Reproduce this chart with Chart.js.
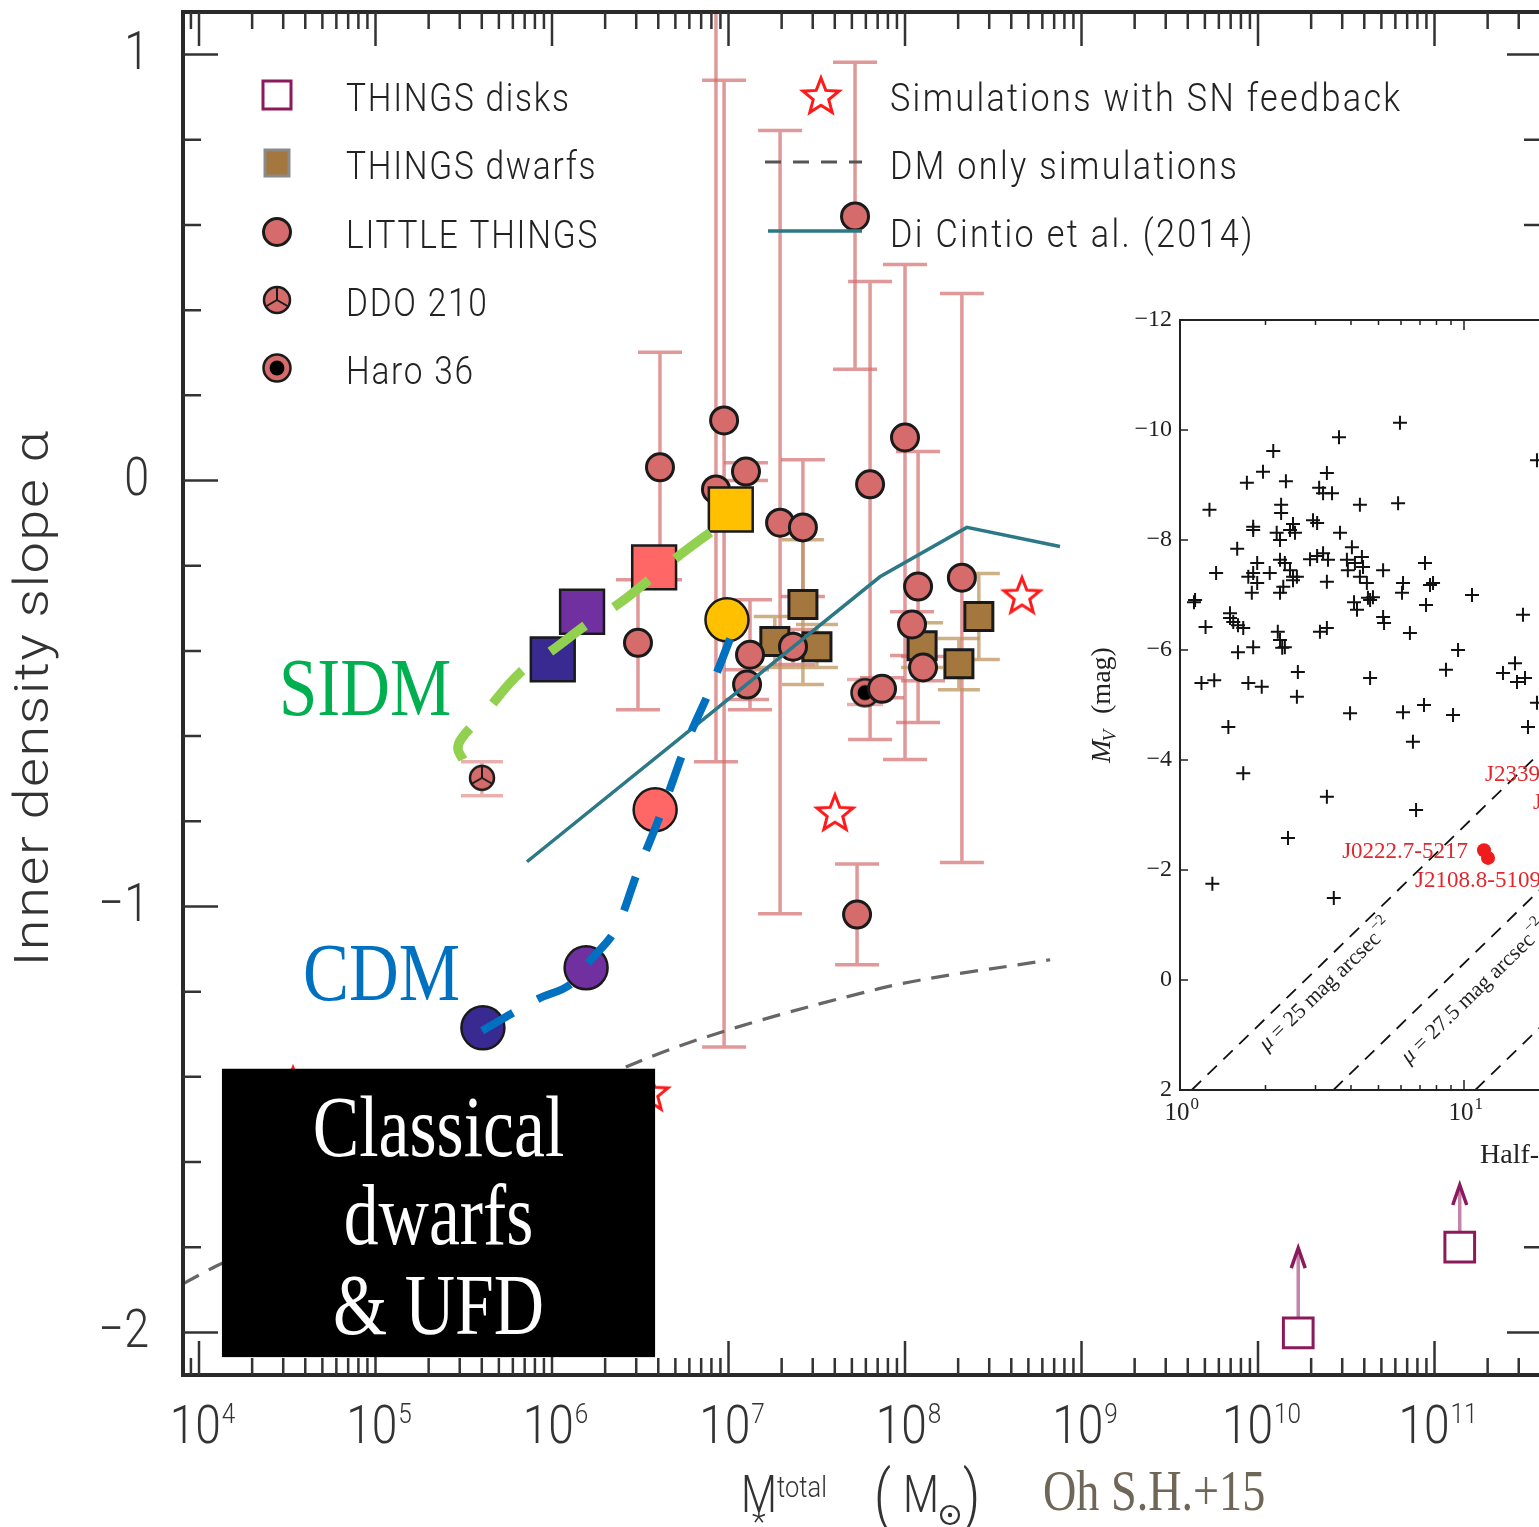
<!DOCTYPE html>
<html>
<head>
<meta charset="utf-8">
<script src="https://cdn.jsdelivr.net/npm/chart.js@4.4.0/dist/chart.umd.min.js"></script>
<style>
  html, body { margin: 0; padding: 0; background: #fff; overflow: hidden; }
  #wrap { position: relative; width: 1539px; height: 1527px; overflow: hidden; background: #fff; }
  #main { position: absolute; left: 0; top: 0; }
  #inset { position: absolute; left: 1062px; top: 300px; }
</style>
</head>
<body>
<div id="wrap">
  <canvas id="main" width="1560" height="1527"></canvas>
  <canvas id="inset" width="800" height="880"></canvas>
</div>
<script>
// ---------------- Main panel: inner density slope vs total stellar mass ----------------
// LITTLE THINGS galaxies (mass in Msun, slope alpha, lower/upper error ends)
const ltMass    = [9.44e6, 8.49e6, 4.09e6, 3.07e6, 1.256e7, 1.96e7, 2.64e7, 6.34e7, 5.21e7, 1.0e8,
                   1.186e8, 2.10e8, 1.096e8, 1.265e8, 1.324e7, 1.274e7, 2.32e7, 7.41e7, 5.35e7];
const ltSlope   = [0.141, -0.021, 0.031, -0.381, 0.021, -0.099, -0.110, -0.009, 0.620, 0.101,
                   -0.249, -0.228, -0.338, -0.439, -0.409, -0.479, -0.390, -0.489, -1.019];
const ltSlopeLo = [-1.330, -0.660, -0.233, -0.538, 0.000, -1.017, -0.272, -0.608, 0.261, -0.655,
                   -0.568, -0.897, -0.411, -0.470, -0.538, -0.514, -0.432, -0.510, -1.137];
const ltSlopeHi = [0.940, 1.500, 0.301, -0.233, 0.042, 0.822, 0.049, 0.467, 0.982, 0.507,
                   0.068, 0.439, -0.308, -0.413, -0.280, -0.444, -0.350, -0.463, -0.900];

const ddoMass = [4.01e5], ddoSlope = [-0.698], ddoSlopeLo = [-0.740], ddoSlopeHi = [-0.660];
const haroMass = [5.93e7], haroSlope = [-0.498], haroSlopeLo = [-0.526], haroSlopeHi = [-0.467];

// THINGS dwarfs
const tdMass    = [2.64e7, 1.83e7, 3.17e7, 1.25e8, 2.02e8, 2.62e8];
const tdSlope   = [-0.291, -0.378, -0.390, -0.388, -0.430, -0.319];
const tdSlopeLo = [-0.479, -0.439, -0.439, -0.439, -0.491, -0.420];
const tdSlopeHi = [-0.139, -0.319, -0.338, -0.334, -0.371, -0.218];

// THINGS disks (lower limits)
const tkMass  = [1.69e10, 1.39e11];
const tkSlope = [-2.001, -1.800];
const tkLimit = [-1.802, -1.654];

// Simulations with SN feedback
const snMass  = [4.60e8, 4.01e7, 3.59e6, 3.41e4];
const snSlope = [-0.268, -0.778, -1.435, -1.419];

// DM-only simulations
const dmMass  = [8.11e3, 1.23e4, 3.07e6, 7.13e7, 6.64e8];
const dmSlope = [-1.886, -1.846, -1.365, -1.193, -1.125];

// Di Cintio et al. (2014)
const dcMass  = [7.21e5, 7.21e7, 2.24e8, 7.55e8];
const dcSlope = [-0.895, -0.226, -0.110, -0.155];

// SIDM track and its four haloes
const sidmTrackMass  = [3.13e5, 2.93e5, 3.09e5, 4.17e5, 6.59e5, 9.62e5, 1.62e6, 2.43e6, 4.04e6, 5.82e6, 9.93e6];
const sidmTrackSlope = [-0.655, -0.630, -0.604, -0.545, -0.451, -0.404, -0.334, -0.287, -0.214, -0.162, -0.092];
const sidmMass  = [1.01e6, 1.48e6, 3.79e6, 1.03e7];
const sidmSlope = [-0.420, -0.308, -0.204, -0.068];

// CDM track and its four haloes
const cdmTrackMass  = [4.01e5, 8.34e5, 1.26e6, 1.66e6, 2.28e6, 3.07e6, 4.20e6, 5.90e6, 7.85e6, 1.07e7];
const cdmTrackSlope = [-1.292, -1.217, -1.184, -1.125, -1.055, -0.916, -0.775, -0.608, -0.491, -0.350];
const cdmMass  = [4.06e5, 1.56e6, 3.84e6, 9.80e6];
const cdmSlope = [-1.285, -1.144, -0.773, -0.327];

const xDecades = [4, 5, 6, 7, 8, 9, 10, 11];
const yTicks = [1, 0, -1, -2];

const legendLeft  = ['THINGS disks', 'THINGS dwarfs', 'LITTLE THINGS', 'DDO 210', 'Haro 36'];
const legendRight = ['Simulations with SN feedback', 'DM only simulations', 'Di Cintio et al. (2014)'];

// ---------------- Inset: absolute magnitude vs half-light radius ----------------
const hlRadius = [5.95,3.63,2.13,1.96,3.29,1.72,2.36,3.09,3.19,3.43,
                  5.86,4.30,1.27,2.27,2.27,1.81,1.81,2.50,2.44,2.54,
                  2.94,3.04,2.19,2.25,3.66,1.59,4.03,3.04,3.19,3.32,
                  2.87,2.25,2.34,2.44,2.50,1.87,1.81,1.74,1.87,2.07,
                  3.87,3.90,4.13,4.37,4.41,4.30,4.55,5.19,7.29,6.10,
                  6.05,7.59,7.78,10.67,1.34,2.25,2.31,2.50,2.58,1.79,
                  3.29,4.10,4.20,4.59,4.67,4.78,7.35,1.13,1.12,1.50,
                  1.54,1.50,1.67,1.60,1.23,5.19,5.23,16.13,6.45,2.21,
                  2.25,2.34,2.29,3.11,3.29,1.60,1.81,9.53,2.60,4.67,
                  8.64,13.72,15.12,15.37,16.40,1.19,1.32,1.74,1.94,2.58,
                  3.97,6.10,7.23,9.15,16.80,18.07,1.48,6.61,1.67,3.29,
                  6.78,2.40,1.30,3.48,18.07];
const hlMag    = [-10.13,-9.87,-9.62,-9.24,-9.22,-9.04,-9.07,-8.95,-8.85,-8.85,
                  -8.67,-8.64,-8.55,-8.64,-8.49,-8.24,-8.18,-8.29,-8.18,-8.13,
                  -8.36,-8.31,-8.13,-8.00,-8.13,-7.84,-7.87,-7.71,-7.76,-7.64,
                  -7.65,-7.64,-7.58,-7.45,-7.33,-7.58,-7.40,-7.33,-7.22,-7.40,
                  -7.64,-7.45,-7.58,-7.69,-7.51,-7.33,-7.22,-7.45,-7.58,-7.22,
                  -7.04,-7.18,-7.22,-7.00,-7.40,-7.04,-7.15,-7.27,-7.33,-7.04,
                  -7.24,-6.87,-6.73,-6.95,-6.91,-6.96,-6.82,-6.91,-6.87,-6.67,
                  -6.51,-6.58,-6.40,-6.45,-6.42,-6.60,-6.49,-6.64,-6.31,-6.33,
                  -6.18,-6.05,-6.04,-6.33,-6.40,-5.96,-6.05,-6.00,-5.60,-5.49,
                  -5.64,-5.58,-5.76,-5.42,-5.49,-5.40,-5.45,-5.40,-5.33,-5.15,
                  -4.85,-4.87,-5.00,-4.82,-4.60,-5.04,-4.60,-4.33,-3.76,-3.33,
                  -3.09,-2.58,-1.75,-1.49,-9.45];

const desName   = ['J0222.7-5217', 'J2108.8-5109'];
const desRadius = [11.76, 12.15];
const desMag    = [-2.36, -2.22];

// constant surface-brightness lines (end points)
const mu25Radius  = [1.10, 20.0],  mu25Mag  = [2.0, -4.30];
const mu275Radius = [3.47, 30.0],  mu275Mag = [2.0, -2.69];
const mu30Radius  = [10.96, 40.0], mu30Mag  = [2.0, -0.81];

const insetYTicks = [-12, -10, -8, -6, -4, -2, 0, 2];
const insetXDecades = [0, 1];

// ---------------- helpers ----------------
const SANS = 'Roboto, "Liberation Sans", Arial, sans-serif';
const SERIF = '"Liberation Serif", "Times New Roman", serif';
const pts = (xs, ys) => xs.map((v, i) => ({ x: v, y: ys[i] }));

function drawText(ctx, s, x, y, o) {
  ctx.save();
  ctx.translate(x, y);
  if (o.rot) ctx.rotate(o.rot);
  ctx.scale(o.sx || 1, o.sy || 1);
  ctx.font = o.font;
  ctx.fillStyle = o.color || '#222';
  ctx.textAlign = o.align || 'left';
  ctx.textBaseline = o.base || 'alphabetic';
  ctx.letterSpacing = (o.ls || 0) + 'px';
  ctx.fillText(s, 0, 0);
  ctx.restore();
}
function textW(ctx, s, font, ls) {
  ctx.save(); ctx.font = font; ctx.letterSpacing = (ls || 0) + 'px';
  const w = ctx.measureText(s).width; ctx.restore(); return w;
}

const LT_FILL = '#d56b6b', EDGE = '#1a1a1a';

function starPath(g, cx, cy, r) {
  g.beginPath();
  for (let i = 0; i < 10; i++) {
    const a = -Math.PI / 2 + i * Math.PI / 5;
    const rr = i % 2 ? r * 0.43 : r;
    g.lineTo(cx + rr * Math.cos(a), cy + rr * Math.sin(a));
  }
  g.closePath();
}
function drawStar(g, cx, cy, r) {
  g.save(); starPath(g, cx, cy, r); g.strokeStyle = '#ff1a1a'; g.lineWidth = 3; g.stroke(); g.restore();
}
function drawDDO(g, cx, cy, r) {
  g.save();
  g.beginPath(); g.arc(cx, cy, r, 0, Math.PI * 2); g.fillStyle = LT_FILL; g.fill();
  g.lineWidth = 2.5; g.strokeStyle = EDGE; g.stroke();
  g.lineWidth = 2;
  [-90, 30, 150].forEach(d => {
    const a = d * Math.PI / 180;
    g.beginPath(); g.moveTo(cx, cy); g.lineTo(cx + r * Math.cos(a), cy + r * Math.sin(a)); g.stroke();
  });
  g.restore();
}
function drawHaro(g, cx, cy, r) {
  g.save();
  g.beginPath(); g.arc(cx, cy, r, 0, Math.PI * 2); g.fillStyle = LT_FILL; g.fill();
  g.lineWidth = 2.5; g.strokeStyle = EDGE; g.stroke();
  g.beginPath(); g.arc(cx, cy, r * 0.55, 0, Math.PI * 2); g.fillStyle = '#000'; g.fill();
  g.restore();
}
function symbolCanvas(size, fn) {
  const c = document.createElement('canvas'); c.width = c.height = size;
  fn(c.getContext('2d'), size / 2, size / 2); return c;
}
const starImg = symbolCanvas(48, (g, cx, cy) => drawStar(g, cx, cy + 2, 19));
const ddoImg  = symbolCanvas(32, (g, cx, cy) => drawDDO(g, cx, cy, 12));
const haroImg = symbolCanvas(34, (g, cx, cy) => drawHaro(g, cx, cy, 13.5));

function errorBars(ctx, xs, ys, mass, lo, hi, color, cap, lw) {
  ctx.strokeStyle = color; ctx.lineWidth = lw;
  mass.forEach((m, i) => {
    const x = xs.getPixelForValue(m), y1 = ys.getPixelForValue(lo[i]), y2 = ys.getPixelForValue(hi[i]);
    ctx.beginPath();
    ctx.moveTo(x, y1); ctx.lineTo(x, y2);
    ctx.moveTo(x - cap / 2, y1); ctx.lineTo(x + cap / 2, y1);
    ctx.moveTo(x - cap / 2, y2); ctx.lineTo(x + cap / 2, y2);
    ctx.stroke();
  });
}

// ---------------- main chart decorations ----------------
const mainDecor = {
  id: 'mainDecor',
  beforeDatasetsDraw(chart) {
    const { ctx, chartArea: a, scales: { x, y } } = chart;
    ctx.save();
    ctx.beginPath(); ctx.rect(a.left, a.top, a.right - a.left, a.bottom - a.top); ctx.clip();
    ctx.lineCap = 'butt';
    errorBars(ctx, x, y, ltMass, ltSlopeLo, ltSlopeHi, 'rgba(212,108,108,0.7)', 44, 3.5);
    errorBars(ctx, x, y, ddoMass, ddoSlopeLo, ddoSlopeHi, 'rgba(225,150,150,0.75)', 42, 3.5);
    errorBars(ctx, x, y, haroMass, haroSlopeLo, haroSlopeHi, 'rgba(225,150,150,0.75)', 36, 3.5);
    errorBars(ctx, x, y, tdMass, tdSlopeLo, tdSlopeHi, 'rgba(190,150,95,0.75)', 42, 3.5);
    // upward arrows for the THINGS disk lower limits
    tkMass.forEach((m, i) => {
      const px = x.getPixelForValue(m), py = y.getPixelForValue(tkSlope[i]), tip = y.getPixelForValue(tkLimit[i]);
      ctx.strokeStyle = '#c584a9'; ctx.lineWidth = 3.5;
      ctx.beginPath(); ctx.moveTo(px, py); ctx.lineTo(px, tip + 2); ctx.stroke();
      ctx.strokeStyle = '#8b1a5a'; ctx.lineWidth = 3.5;
      ctx.beginPath(); ctx.moveTo(px - 7, tip + 20); ctx.lineTo(px, tip); ctx.lineTo(px + 7, tip + 20); ctx.stroke();
    });
    ctx.restore();
  },
  afterDatasetsDraw(chart) {
    const { ctx, chartArea: a, scales: { x, y } } = chart;
    ctx.save();

    // frame
    ctx.strokeStyle = '#2a2a2a'; ctx.lineWidth = 4;
    ctx.strokeRect(a.left, a.top, a.right - a.left, a.bottom - a.top);

    // ticks
    ctx.strokeStyle = '#333'; ctx.lineWidth = 2.5;
    for (let d = 3; d <= 11; d++) {
      for (let k = 1; k <= 9; k++) {
        const v = k * Math.pow(10, d);
        if (v < x.min || v > x.max) continue;
        const px = x.getPixelForValue(v), len = k === 1 ? 34 : 17;
        ctx.beginPath();
        ctx.moveTo(px, a.top); ctx.lineTo(px, a.top + len);
        ctx.moveTo(px, a.bottom); ctx.lineTo(px, a.bottom - len);
        ctx.stroke();
      }
    }
    for (let k = -10; k <= 5; k++) {
      const v = k * 0.2, py = y.getPixelForValue(v), len = k % 5 === 0 ? 35 : 18;
      ctx.beginPath();
      ctx.moveTo(a.left, py); ctx.lineTo(a.left + len, py);
      ctx.moveTo(a.right, py); ctx.lineTo(a.right - len, py);
      ctx.stroke();
    }

    // y tick labels
    yTicks.forEach(v => {
      const s = v < 0 ? '\u2212' + Math.abs(v) : String(v);
      drawText(ctx, s, 149, y.getPixelForValue(v) + 1, { font: '300 54px ' + SANS, sx: 0.83, align: 'right', base: 'middle', color: '#333' });
    });
    // x tick labels 10^n
    const big = '300 53px ' + SANS, small = '300 28px ' + SANS;
    xDecades.forEach(n => {
      const px = x.getPixelForValue(Math.pow(10, n));
      const w1 = textW(ctx, '10', big) * 0.87, w2 = textW(ctx, String(n), small) * 0.87;
      const left = px + 3 - (w1 + w2) / 2;
      drawText(ctx, '10', left, 1443, { font: big, sx: 0.87, color: '#333' });
      drawText(ctx, String(n), left + w1 + 1, 1423, { font: small, sx: 0.87, color: '#333' });
    });

    // axis titles
    drawText(ctx, 'Inner density slope \u03b1', 36, 698, { font: '300 56px ' + SANS, rot: -Math.PI / 2, sy: 0.85, align: 'center', base: 'middle', ls: 1.5, color: '#333' });
    const tf = '300 52px ' + SANS;
    drawText(ctx, 'M', 741, 1512, { font: tf, sx: 0.8, color: '#333' });
    drawText(ctx, 'total', 777, 1497, { font: '300 30px ' + SANS, sx: 0.85, color: '#333' });
    drawText(ctx, '*', 752, 1532, { font: '300 32px ' + SANS, color: '#333' });
    drawText(ctx, '(', 874, 1518, { font: '300 66px ' + SANS, sx: 0.8, color: '#333' });
    drawText(ctx, 'M', 903, 1512, { font: tf, sx: 0.8, color: '#333' });
    ctx.strokeStyle = '#333'; ctx.lineWidth = 2.2;
    ctx.beginPath(); ctx.arc(950, 1515, 9, 0, Math.PI * 2); ctx.stroke();
    ctx.fillStyle = '#333'; ctx.beginPath(); ctx.arc(950, 1515, 2.2, 0, Math.PI * 2); ctx.fill();
    drawText(ctx, ')', 963, 1518, { font: '300 66px ' + SANS, sx: 0.8, color: '#333' });
    drawText(ctx, 'Oh S.H.+15', 1043, 1510, { font: '57px ' + SERIF, sx: 0.81, color: '#6e6656' });

    // legend
    const lf = '300 38px ' + SANS;
    const rowsL = [95, 163, 232, 300, 368];
    ctx.fillStyle = '#fff'; ctx.strokeStyle = '#8b1a5a'; ctx.lineWidth = 3;
    ctx.fillRect(263, 81, 28, 28); ctx.strokeRect(263, 81, 28, 28);
    ctx.fillStyle = '#a3773d'; ctx.strokeStyle = '#8a8a8a';
    ctx.fillRect(265, 150, 24, 26); ctx.strokeRect(265, 150, 24, 26);
    ctx.beginPath(); ctx.arc(277, 232, 13.5, 0, Math.PI * 2); ctx.fillStyle = LT_FILL; ctx.fill();
    ctx.strokeStyle = EDGE; ctx.lineWidth = 3; ctx.stroke();
    drawDDO(ctx, 277, 300, 13);
    drawHaro(ctx, 277, 368, 13.5);
    legendLeft.forEach((s, i) => drawText(ctx, s, 346, rowsL[i] + 16, { font: lf, sx: 0.88, ls: 2, color: '#222' }));
    const rowsR = [95, 163, 231];
    drawStar(ctx, 821, 97, 19);
    ctx.save(); ctx.strokeStyle = '#555'; ctx.lineWidth = 3; ctx.setLineDash([16, 12]);
    ctx.beginPath(); ctx.moveTo(765, 162); ctx.lineTo(862, 162); ctx.stroke(); ctx.restore();
    ctx.strokeStyle = '#2d7887'; ctx.lineWidth = 3.5;
    ctx.beginPath(); ctx.moveTo(768, 231); ctx.lineTo(862, 231); ctx.stroke();
    legendRight.forEach((s, i) => drawText(ctx, s, 890, rowsR[i] + 16, { font: lf, sx: 0.9, ls: 2.6, color: '#222' }));

    // model labels
    drawText(ctx, 'SIDM', 279, 715, { font: '83px ' + SERIF, sx: 0.83, color: '#00b050' });
    drawText(ctx, 'CDM', 303, 1000, { font: '83px ' + SERIF, sx: 0.83, color: '#0070c0' });

    // classical dwarfs box
    const bx0 = x.getPixelForValue(Math.pow(10, 4.130)), bx1 = x.getPixelForValue(Math.pow(10, 6.584));
    const by0 = y.getPixelForValue(-1.381), by1 = y.getPixelForValue(-2.058);
    ctx.fillStyle = '#000'; ctx.fillRect(bx0, by0, bx1 - bx0, by1 - by0);
    const cx = (bx0 + bx1) / 2, bf = '86px ' + SERIF;
    drawText(ctx, 'Classical', cx, by0 + 87, { font: bf, sx: 0.81, align: 'center', color: '#fff' });
    drawText(ctx, 'dwarfs', cx, by0 + 175, { font: bf, sx: 0.81, align: 'center', color: '#fff' });
    drawText(ctx, '& UFD', cx, by0 + 265, { font: bf, sx: 0.81, align: 'center', color: '#fff' });

    ctx.restore();
  }
};

const modelFill = ['#382a91', '#7030a0', '#ff6666', '#ffc000'];

new Chart(document.getElementById('main'), {
  type: 'scatter',
  data: {
    datasets: [
      { label: 'CDM track', data: pts(cdmTrackMass, cdmTrackSlope), showLine: true, borderColor: '#0070c0',
        borderWidth: 8, borderDash: [36, 28], borderDashOffset: 0, tension: 0.4, pointRadius: 0, order: 1 },
      { label: 'SIDM track', data: pts(sidmTrackMass, sidmTrackSlope), showLine: true, borderColor: '#92d050',
        borderWidth: 9.5, borderDash: [44, 34], borderDashOffset: 8, tension: 0.4, pointRadius: 0, order: 1 },
      { label: 'Di Cintio et al. (2014)', data: pts(dcMass, dcSlope), showLine: true, borderColor: '#2d7887',
        borderWidth: 3.5, pointRadius: 0, order: 2 },
      { label: 'SIDM haloes', data: pts(sidmMass, sidmSlope), pointStyle: 'rect', pointRadius: 31,
        backgroundColor: modelFill, borderColor: EDGE, borderWidth: 2.5, order: 3 },
      { label: 'CDM haloes', data: pts(cdmMass, cdmSlope), pointStyle: 'circle', pointRadius: 21.5,
        backgroundColor: modelFill, borderColor: EDGE, borderWidth: 2.5, order: 3 },
      { label: 'LITTLE THINGS', data: pts(ltMass, ltSlope), pointStyle: 'circle', pointRadius: 13.5,
        backgroundColor: LT_FILL, borderColor: EDGE, borderWidth: 3, order: 4 },
      { label: 'DDO 210', data: pts(ddoMass, ddoSlope), pointStyle: ddoImg, order: 4 },
      { label: 'Haro 36', data: pts(haroMass, haroSlope), pointStyle: haroImg, order: 4 },
      { label: 'THINGS disks', data: pts(tkMass, tkSlope), pointStyle: 'rect', pointRadius: 21,
        backgroundColor: '#fff', borderColor: '#8b1a5a', borderWidth: 3, order: 4 },
      { label: 'Simulations with SN feedback', data: pts(snMass, snSlope), pointStyle: starImg, order: 4 },
      { label: 'THINGS dwarfs', data: pts(tdMass, tdSlope), pointStyle: 'rect', pointRadius: 19.8,
        backgroundColor: '#a3773d', borderColor: EDGE, borderWidth: 3, order: 5 },
      { label: 'DM only simulations', data: pts(dmMass, dmSlope), showLine: true, borderColor: '#666',
        borderWidth: 3.2, borderDash: [18, 11], tension: 0.3, pointRadius: 0, order: 6 }
    ]
  },
  options: {
    responsive: false, animation: false, devicePixelRatio: 1,
    layout: { autoPadding: false, padding: { left: 183, top: 12, right: 18, bottom: 152 } },
    plugins: { legend: { display: false }, tooltip: { enabled: false } },
    scales: {
      x: { type: 'logarithmic', min: Math.pow(10, 3.9093), max: Math.pow(10, 11.609), display: false },
      y: { type: 'linear', min: -2.1, max: 1.1, display: false }
    }
  },
  plugins: [mainDecor]
});

// ---------------- inset chart ----------------
const insetDecor = {
  id: 'insetDecor',
  beforeDraw(chart) {
    const ctx = chart.ctx;
    ctx.save(); ctx.fillStyle = '#fff'; ctx.fillRect(0, 0, chart.width, chart.height); ctx.restore();
  },
  afterDatasetsDraw(chart) {
    const { ctx, chartArea: a, scales: { x, y } } = chart;
    ctx.save();
    ctx.strokeStyle = '#222'; ctx.lineWidth = 2;
    ctx.strokeRect(a.left, a.top, a.right - a.left, a.bottom - a.top);
    ctx.lineWidth = 1.5;
    for (let d = 0; d <= 1; d++) {
      for (let k = 1; k <= 9; k++) {
        const px = x.getPixelForValue(k * Math.pow(10, d)), len = k === 1 ? 10 : 5;
        ctx.beginPath();
        ctx.moveTo(px, a.bottom); ctx.lineTo(px, a.bottom - len);
        ctx.moveTo(px, a.top); ctx.lineTo(px, a.top + len);
        ctx.stroke();
      }
    }
    insetYTicks.forEach(v => {
      const py = y.getPixelForValue(v);
      ctx.beginPath(); ctx.moveTo(a.left, py); ctx.lineTo(a.left + 8, py);
      ctx.moveTo(a.right, py); ctx.lineTo(a.right - 8, py); ctx.stroke();
      const s = v < 0 ? '\u2212' + Math.abs(v) : String(v);
      drawText(ctx, s, a.left - 8, py, { font: '24px ' + SERIF, align: 'right', base: 'middle', color: '#222' });
    });
    insetXDecades.forEach(n => {
      const px = x.getPixelForValue(Math.pow(10, n));
      const w1 = textW(ctx, '10', '25px ' + SERIF);
      drawText(ctx, '10', px - 3 - w1 / 2, a.bottom + 30, { font: '25px ' + SERIF, color: '#222' });
      drawText(ctx, String(n), px - 3 + w1 / 2 + 1, a.bottom + 19, { font: '17px ' + SERIF, color: '#222' });
    });
    // axis titles
    ctx.save();
    ctx.translate(48, (a.top + a.bottom) / 2); ctx.rotate(-Math.PI / 2);
    const f1 = 'italic 28px ' + SERIF, f2 = 'italic 19px ' + SERIF, f3 = '28px ' + SERIF;
    const wM = textW(ctx, 'M', f1), wV = textW(ctx, 'V', f2), wR = textW(ctx, '  (mag)', f3);
    const x0 = -(wM + wV + wR) / 2;
    ctx.fillStyle = '#222';
    ctx.font = f1; ctx.fillText('M', x0, 0);
    ctx.font = f2; ctx.fillText('V', x0 + wM - 2, 6);
    ctx.font = f3; ctx.fillText('  (mag)', x0 + wM + wV, 0);
    ctx.restore();
    drawText(ctx, 'Half-light radius (pc)', 418, 863, { font: '28px ' + SERIF, color: '#222' });

    // names of the new dwarfs
    const red = '#e3262b', nf = '23px ' + SERIF;
    const p0x = x.getPixelForValue(desRadius[0]), p0y = y.getPixelForValue(desMag[0]);
    const p1x = x.getPixelForValue(desRadius[1]), p1y = y.getPixelForValue(desMag[1]);
    drawText(ctx, desName[0], p0x - 16, p0y + 8, { font: nf, align: 'right', color: red });
    drawText(ctx, desName[1], p1x - 73, p1y + 29, { font: nf, color: red });
    drawText(ctx, 'J2339.9-5424', 423, 481, { font: nf, color: red });
    drawText(ctx, 'J0443.8-5017', 471, 509, { font: nf, color: red });

    // surface-brightness labels along the dashed lines
    const muLabel = (lr, lm, cx, cy, val) => {
      const ax = x.getPixelForValue(lr[0]), ay = y.getPixelForValue(lm[0]);
      const bx = x.getPixelForValue(lr[1]), by = y.getPixelForValue(lm[1]);
      const ang = Math.atan2(by - ay, bx - ax);
      const f = '22px ' + SERIF, fi = 'italic 22px ' + SERIF, fs = '15px ' + SERIF;
      const s1 = ' = ' + val + ' mag arcsec';
      const w0 = textW(ctx, '\u03bc', fi), w1 = textW(ctx, s1, f), w2 = textW(ctx, '\u22122', fs);
      ctx.save(); ctx.translate(cx, cy); ctx.rotate(ang);
      ctx.fillStyle = '#222'; ctx.textBaseline = 'middle';
      let sx = -(w0 + w1 + w2) / 2;
      ctx.font = fi; ctx.fillText('\u03bc', sx, 0);
      ctx.font = f; ctx.fillText(s1, sx + w0, 0);
      ctx.font = fs; ctx.fillText('\u22122', sx + w0 + w1 + 1, -9);
      ctx.restore();
    };
    muLabel(mu25Radius, mu25Mag, 264, 686, '25');
    muLabel(mu275Radius, mu275Mag, 412, 693, '27.5');
    ctx.restore();
  }
};

new Chart(document.getElementById('inset'), {
  type: 'scatter',
  data: {
    datasets: [
      { label: 'dwarfs', data: pts(hlRadius, hlMag), pointStyle: 'cross', pointRadius: 7,
        borderColor: '#111', borderWidth: 2 },
      { label: 'new', data: pts(desRadius, desMag), pointStyle: 'circle', pointRadius: 7,
        backgroundColor: '#ee1c1c', borderWidth: 0 },
      { label: 'mu25', data: pts(mu25Radius, mu25Mag), showLine: true, borderColor: '#111', borderWidth: 1.8,
        borderDash: [13, 9], pointRadius: 0 },
      { label: 'mu27.5', data: pts(mu275Radius, mu275Mag), showLine: true, borderColor: '#111', borderWidth: 1.8,
        borderDash: [13, 9], pointRadius: 0 },
      { label: 'mu30', data: pts(mu30Radius, mu30Mag), showLine: true, borderColor: '#111', borderWidth: 1.8,
        borderDash: [13, 9], pointRadius: 0 }
    ]
  },
  options: {
    responsive: false, animation: false, devicePixelRatio: 1,
    layout: { autoPadding: false, padding: { left: 118, top: 20, right: 114, bottom: 90 } },
    plugins: { legend: { display: false }, tooltip: { enabled: false } },
    scales: {
      x: { type: 'logarithmic', min: 1, max: 100, display: false },
      y: { type: 'linear', min: -12, max: 2, reverse: true, display: false }
    }
  },
  plugins: [insetDecor]
});
</script>
</body>
</html>
